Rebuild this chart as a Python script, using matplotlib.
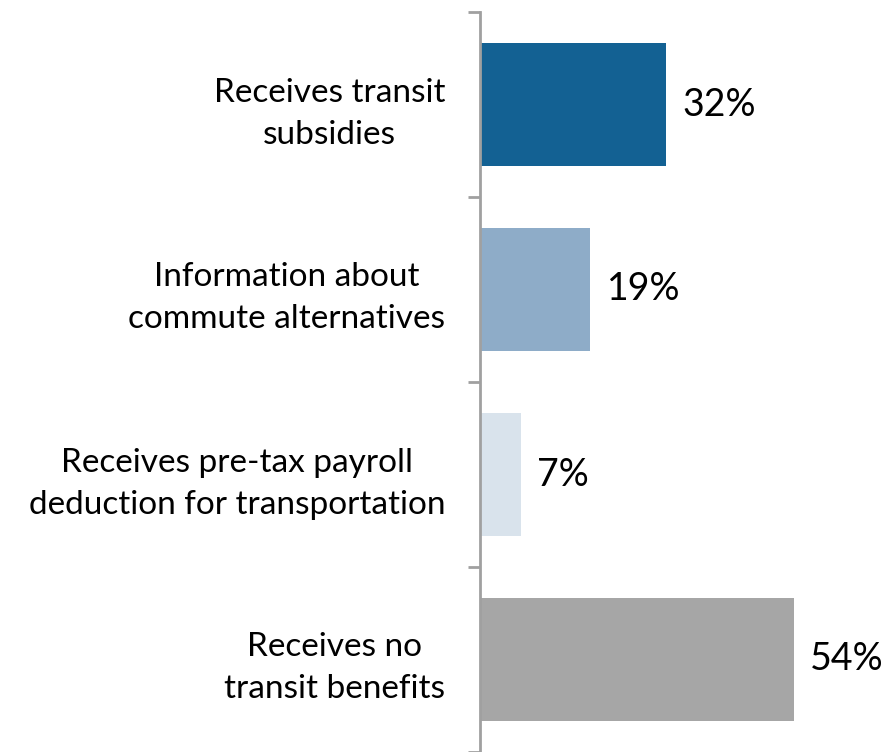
import matplotlib.pyplot as plt
import numpy as np

categories = [
    "Receives transit\nsubsidies",
    "Information about\ncommute alternatives",
    "Receives pre-tax payroll\ndeduction for transportation",
    "Receives no\ntransit benefits",
]
values = [32, 19, 7, 54]
colors = ["#136193", "#8eacc8", "#d9e3ec", "#a6a6a6"]

plt.rcParams['font.family'] = ['Lato', 'DejaVu Sans']

fig = plt.figure(figsize=(8.86, 7.52), dpi=100)
ax = fig.add_axes([480 / 886, 0, 406 / 886, 740 / 752])

y = np.arange(len(categories))
ax.barh(y, values, height=0.67, color=colors)
ax.set_ylim(len(categories) - 0.5, -0.5)
ax.set_xlim(0, 406 / 5.81)

for yi, v in zip(y, values):
    ax.text(v + 2.8, yi, f"{v}%", va='center', ha='left', fontsize=27, color='black')

# boundary ticks on the spine, labels on minor ticks at bar centres
ax.set_yticks(np.arange(-0.5, len(categories), 1.0))
ax.set_yticklabels([])
ax.set_yticks(y, minor=True)
ax.set_yticklabels(categories, minor=True, fontsize=24, multialignment='center',
                   linespacing=1.5)
ax.tick_params(axis='y', which='major', length=9, width=2, color='#a0a0a0', direction='out')
ax.tick_params(axis='y', which='minor', length=0, pad=25)

ax.set_xticks([])
for s in ['top', 'right', 'bottom']:
    ax.spines[s].set_visible(False)
ax.spines['left'].set_color('#a0a0a0')
ax.spines['left'].set_linewidth(2)

fig.savefig("out.png", dpi=100)
